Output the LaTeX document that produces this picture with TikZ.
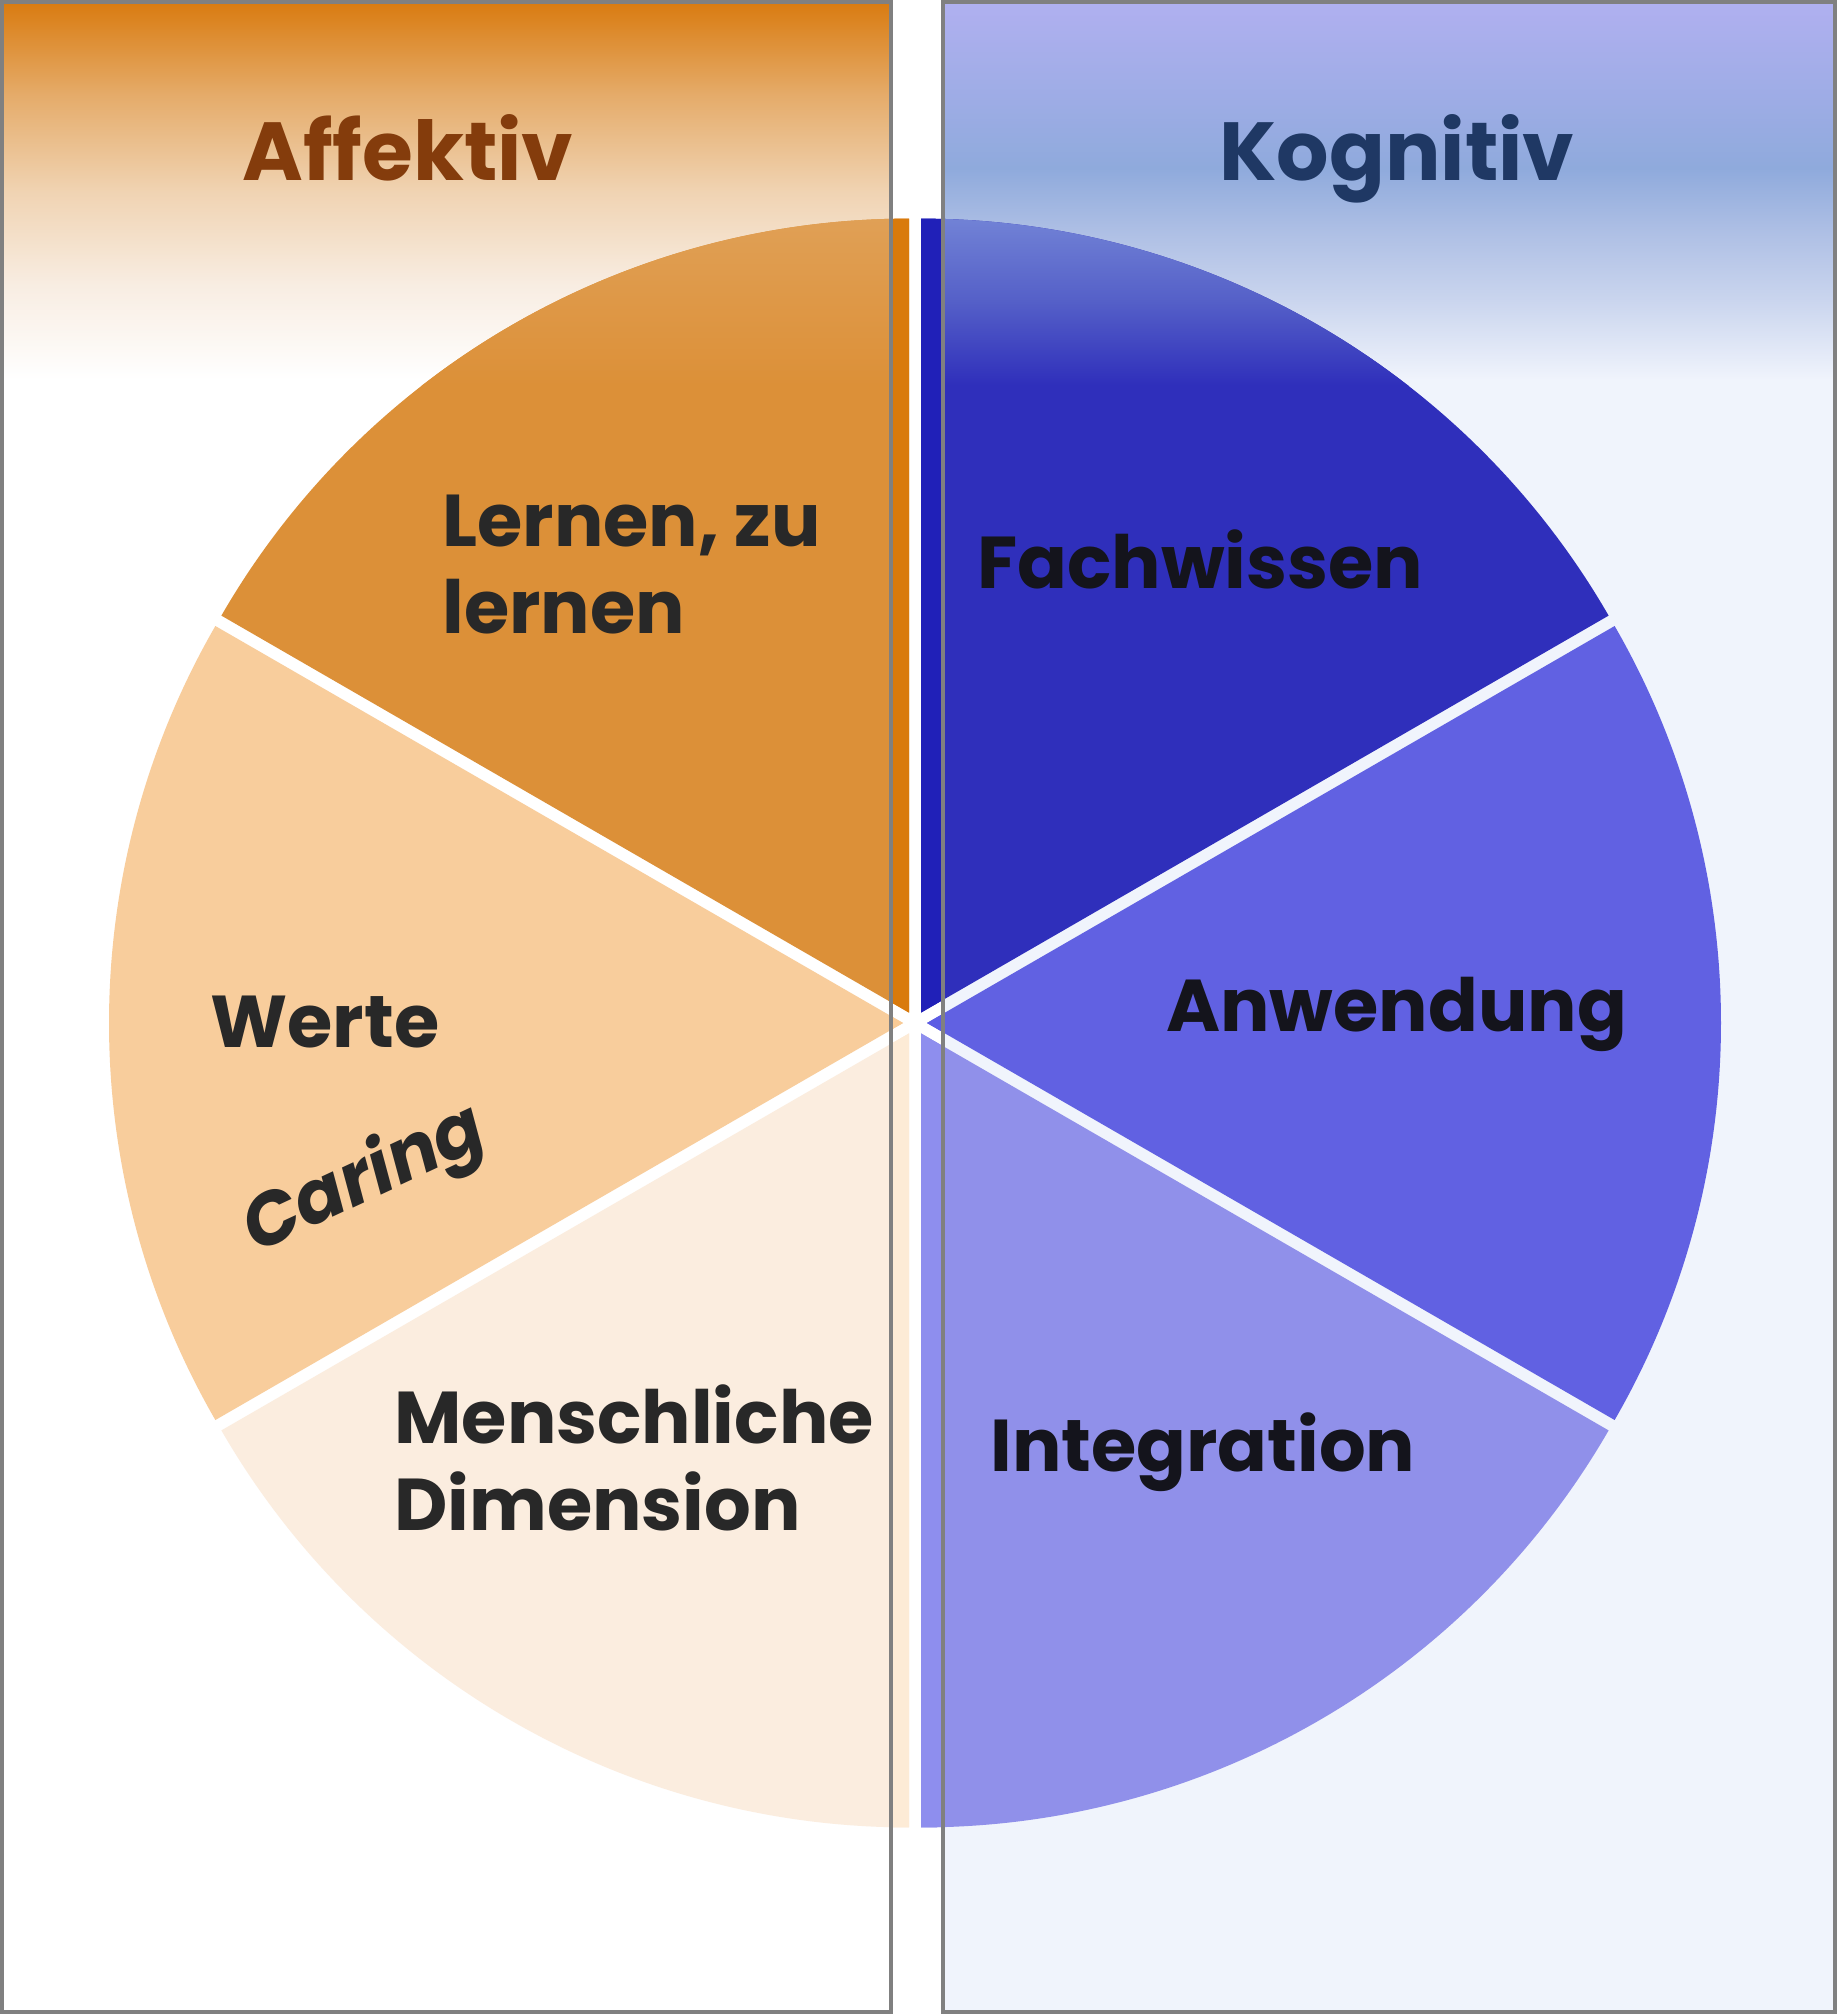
\documentclass[tikz,border=0pt]{standalone}
\usepackage{fontspec}
\setmainfont{Poppins}
\definecolor{orgIn}{HTML}{DC9038}
\definecolor{orgTop}{HTML}{E0A056}
\definecolor{orgS}{HTML}{D97A0C}
\definecolor{peachIn}{HTML}{F8CD9C}
\definecolor{peachS}{HTML}{F9CB96}
\definecolor{beigeIn}{HTML}{FBEDDF}
\definecolor{beigeS}{HTML}{FDEBD6}
\definecolor{fachIn}{HTML}{2F2FBB}
\definecolor{fachS}{HTML}{2020B8}
\definecolor{fachTop}{HTML}{7283D6}
\definecolor{fachMid}{HTML}{5560C8}
\definecolor{anwIn}{HTML}{6161E2}
\definecolor{anwS}{HTML}{5C5CE4}
\definecolor{intIn}{HTML}{9090EA}
\definecolor{intS}{HTML}{8E8EEE}
\definecolor{kogBase}{HTML}{F0F4FC}
\definecolor{borderGray}{HTML}{808080}
\definecolor{affCol}{HTML}{843C0C}
\definecolor{kogCol}{HTML}{1F3864}
\definecolor{txtL}{HTML}{282828}
\definecolor{txtR}{HTML}{14141C}
\definecolor{a0}{HTML}{D97B10}
\definecolor{a1}{HTML}{E5AC6B}
\definecolor{a2}{HTML}{F0D3B2}
\definecolor{a3}{HTML}{F8EDE2}
\definecolor{k0}{HTML}{B0B0F0}
\definecolor{k1}{HTML}{9DACE5}
\definecolor{k2}{HTML}{8FAADC}
\definecolor{k3}{HTML}{AFC0E5}
\definecolor{k4}{HTML}{CAD5EE}
\pgfdeclareverticalshading{affbg}{100bp}{color(0bp)=(white); color(25bp)=(white); color(37.5bp)=(a3); color(50bp)=(a2); color(62.5bp)=(a1); color(75bp)=(a0); color(100bp)=(a0)}
\pgfdeclareverticalshading{kogbg}{100bp}{color(0bp)=(kogBase); color(25bp)=(kogBase); color(35.5bp)=(k4); color(44.3bp)=(k3); color(53bp)=(k2); color(61.8bp)=(k1); color(75bp)=(k0); color(100bp)=(k0)}
\newcommand\slicepath[3]{([shift={(#1:12)}]ctr) -- ++(#2:794) arc[start angle=#2, end angle=#3, radius=794] -- cycle}
\tikzset{
  panelborder/.style={draw=borderGray, line width=2pt},
  lbl/.style={inner sep=0pt, anchor=base west, font=\bfseries\fontsize{36.7}{43.5}\selectfont},
  ttl/.style={inner sep=0pt, anchor=base west, font=\bfseries\fontsize{41.2}{48}\selectfont}
}
\begin{document}
\begin{tikzpicture}[x=0.5pt,y=0.5pt]
\useasboundingbox (0,0) rectangle (1837,-2014);
\coordinate (ctr) at (915,-1023);
% panel backgrounds
\fill[white] (2,-2) rectangle (891,-2012);
\shade[shading=affbg] (2,-2) rectangle (891,-380);
\fill[kogBase] (943,-2) rectangle (1835,-2012);
\shade[shading=kogbg] (943,-2) rectangle (1835,-380);
% slices
\fill[orgIn] \slicepath{120}{90}{150};
\fill[peachIn] \slicepath{180}{150}{210};
\fill[beigeIn] \slicepath{240}{210}{270};
\fill[intIn] \slicepath{300}{270}{330};
\fill[anwIn] \slicepath{0}{-30}{30};
\fill[fachIn] \slicepath{60}{30}{90};
% top tint of upper slices
\begin{scope}
  \clip (2,-2) rectangle (891,-2012);
  \clip \slicepath{120}{90}{150};
  \shade[top color=orgTop, bottom color=orgIn] (100,-216) rectangle (910,-385);
\end{scope}
\begin{scope}
  \clip (943,-2) rectangle (1835,-2012);
  \clip \slicepath{60}{30}{90};
  \shade[top color=fachTop, bottom color=fachIn, middle color=fachMid] (920,-216) rectangle (1760,-385);
\end{scope}
% strip between panels
\begin{scope}
  \clip (891,0) rectangle (943,-2014);
  \fill[orgS] \slicepath{120}{90}{150};
  \fill[peachS] \slicepath{180}{150}{210};
  \fill[beigeS] \slicepath{240}{210}{270};
  \fill[intS] \slicepath{300}{270}{330};
  \fill[anwS] \slicepath{0}{-30}{30};
  \fill[fachS] \slicepath{60}{30}{90};
\end{scope}
% panel borders
\draw[panelborder] (2,-2) rectangle (891,-2012);
\draw[panelborder] (943,-2) rectangle (1835,-2012);
% titles
\node[ttl, text=affCol] (affektiv) at (242,-180) {Affektiv};
\node[ttl, text=kogCol] (kognitiv) at (1219,-180) {Kognitiv};
% labels
\node[lbl, text=txtL] (lernenA) at (442,-546) {Lernen, zu};
\node[lbl, text=txtL] (lernenB) at (442,-633) {lernen};
\node[lbl, text=txtL] (werte) at (210,-1047) {Werte};
\node[inner sep=0pt, text=txtL, rotate=25, font=\bfseries\itshape\fontsize{36.7}{43.5}\selectfont] (caring) at (365,-1181) {Caring};
\node[lbl, text=txtL] (menschA) at (394,-1443) {Menschliche};
\node[lbl, text=txtL] (menschB) at (394,-1530) {Dimension};
\node[lbl, text=txtR] (fach) at (977,-588) {Fachwissen};
\node[lbl, text=txtR] (anw) at (1166,-1031) {Anwendung};
\node[lbl, text=txtR] (integ) at (990,-1471) {Integration};
\end{tikzpicture}
\end{document}
